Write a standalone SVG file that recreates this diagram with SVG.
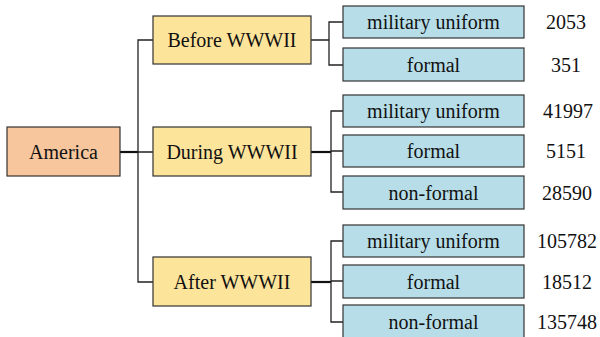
<svg xmlns="http://www.w3.org/2000/svg" width="600" height="337" viewBox="0 0 600 337">
<style>
text{font-family:"Liberation Serif","Times New Roman",serif;font-size:20px;fill:#111;text-anchor:middle}
.box{stroke:#333;stroke-width:1.2}
.root{fill:#F8C69C}
.mid{fill:#FDE49B}
.leaf{fill:#B7DEE8}
.ln{fill:none;stroke:#222;stroke-width:1.3}
.thk{fill:none;stroke:#111;stroke-width:2.2}
</style>
<rect width="600" height="337" fill="#fff"/>
<g id="connectors">
<path class="thk" d="M120 152H138"/>
<path class="ln" d="M138 152H153M153 40H138V282H153"/>
<path class="ln" d="M311 40H329M343 22H329V65H343"/>
<path class="thk" d="M311 152H331"/>
<path class="ln" d="M343 111H331V192H343M331 151H343"/>
<path class="thk" d="M311 282H331"/>
<path class="ln" d="M343 241H331V322H343M331 281H343"/>
</g>
<g id="america"><rect class="box root" x="7" y="127" width="113" height="49"/><text x="63.5" y="159">America</text></g>
<g id="before"><rect class="box mid" x="153" y="16" width="158" height="48"/><text x="232" y="47">Before WWWII</text></g>
<g id="during"><rect class="box mid" x="153" y="127" width="158" height="49"/><text x="232" y="159">During WWWII</text></g>
<g id="after"><rect class="box mid" x="153" y="257" width="158" height="49"/><text x="232" y="289">After WWWII</text></g>
<g id="b1"><rect class="box leaf" x="343" y="6" width="181" height="32"/><text x="433.5" y="29">military uniform</text><text x="566" y="29">2053</text></g>
<g id="b2"><rect class="box leaf" x="343" y="48" width="181" height="33"/><text x="433.5" y="71.5">formal</text><text x="566" y="71.5">351</text></g>
<g id="d1"><rect class="box leaf" x="343" y="95" width="181" height="32"/><text x="433.5" y="118">military uniform</text><text x="568" y="118">41997</text></g>
<g id="d2"><rect class="box leaf" x="343" y="135" width="181" height="32"/><text x="433.5" y="158">formal</text><text x="566" y="158">5151</text></g>
<g id="d3"><rect class="box leaf" x="343" y="176" width="181" height="33"/><text x="433.5" y="199.5">non-formal</text><text x="567" y="199.5">28590</text></g>
<g id="a1"><rect class="box leaf" x="343" y="225" width="181" height="32"/><text x="433.5" y="248">military uniform</text><text x="567" y="248">105782</text></g>
<g id="a2"><rect class="box leaf" x="343" y="265" width="181" height="33"/><text x="433.5" y="288.5">formal</text><text x="567" y="288.5">18512</text></g>
<g id="a3"><rect class="box leaf" x="343" y="305" width="181" height="34"/><text x="433.5" y="328.5">non-formal</text><text x="567" y="328.5">135748</text></g>
</svg>
